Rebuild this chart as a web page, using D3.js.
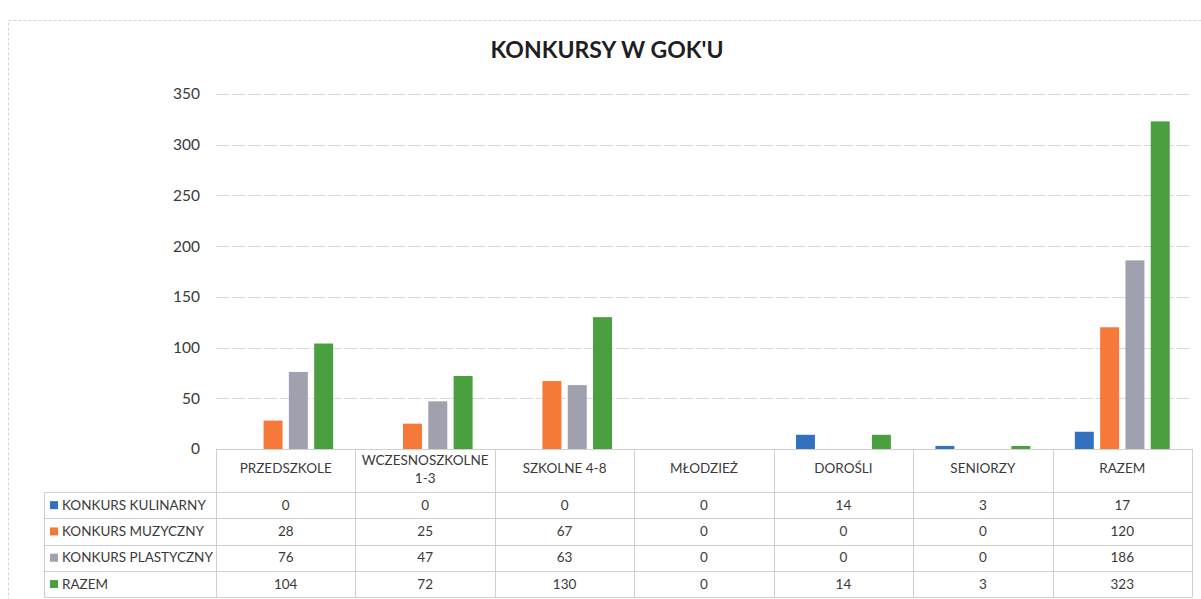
<!DOCTYPE html>
<html>
<head>
<meta charset="utf-8">
<script src="https://cdn.jsdelivr.net/npm/d3@7"></script>
<style>
  body { margin: 0; background: #fff; }
  text { font-family: Lato, "Open Sans", sans-serif; fill: #3a3a3a; }
</style>
</head>
<body>
<svg id="chart" width="1201" height="599"></svg>
<script>
// chart data
const categories = ["PRZEDSZKOLE", "WCZESNOSZKOLNE 1-3", "SZKOLNE 4-8", "MŁODZIEŻ", "DOROŚLI", "SENIORZY", "RAZEM"];
const headerLines = [["PRZEDSZKOLE"], ["WCZESNOSZKOLNE", "1-3"], ["SZKOLNE 4-8"], ["MŁODZIEŻ"], ["DOROŚLI"], ["SENIORZY"], ["RAZEM"]];
const seriesNames = ["KONKURS KULINARNY", "KONKURS MUZYCZNY", "KONKURS PLASTYCZNY", "RAZEM"];
const kulinarny  = [0, 0, 0, 0, 14, 3, 17];
const muzyczny   = [28, 25, 67, 0, 0, 0, 120];
const plastyczny = [76, 47, 63, 0, 0, 0, 186];
const razem      = [104, 72, 130, 0, 14, 3, 323];
const seriesValues = [kulinarny, muzyczny, plastyczny, razem];
const colors = ["#3370c0", "#f7793a", "#a0a1ae", "#4a9f3e"];
const yTicks = [0, 50, 100, 150, 200, 250, 300, 350];

const svg = d3.select("#chart");

const plot = {left: 216, right: 1192, top: 94, bottom: 449};
const rowH = 26.3, headerBottom = 492, tableLeft = 44;

// outer frame
svg.append("rect")
    .attr("x", 8.5).attr("y", 20.5)
    .attr("width", 1200).attr("height", 590)
    .attr("fill", "none")
    .attr("stroke", "#d4d4d4")
    .attr("stroke-dasharray", "3,2");

svg.append("text")
    .attr("x", 607).attr("y", 58)
    .attr("text-anchor", "middle")
    .attr("font-size", 23)
    .attr("font-weight", "bold")
    .style("fill", "#1e1e24")
    .text("KONKURSY W GOK'U");

const x = d3.scaleBand()
    .domain(categories)
    .range([plot.left, plot.right]);

const xSub = d3.scaleBand()
    .domain(seriesNames)
    .range([0, x.bandwidth()])
    .paddingInner(0.25)
    .paddingOuter(0.88);

const y = d3.scaleLinear()
    .domain([0, 350])
    .range([plot.bottom, plot.top]);

// grid
svg.append("g")
  .selectAll("line")
  .data(yTicks.slice(1))
  .join("line")
    .attr("x1", plot.left).attr("x2", plot.right)
    .attr("y1", d => Math.round(y(d)) + 0.5)
    .attr("y2", d => Math.round(y(d)) + 0.5)
    .attr("stroke", "#dadada")
    .attr("stroke-dasharray", "14,2");

// y axis labels
svg.append("g")
  .selectAll("text")
  .data(yTicks)
  .join("text")
    .attr("x", 200)
    .attr("y", d => y(d))
    .attr("dy", "0.35em")
    .attr("text-anchor", "end")
    .attr("font-size", 15.5)
    .text(d => d);

// bars
const groups = svg.append("g")
  .selectAll("g")
  .data(categories)
  .join("g")
    .attr("transform", d => `translate(${x(d)},0)`);

groups.selectAll("rect")
  .data((d, i) => seriesNames.map((s, j) => ({s, j, v: seriesValues[j][i]})))
  .join("rect")
    .attr("x", d => xSub(d.s))
    .attr("width", xSub.bandwidth())
    .attr("y", d => y(d.v))
    .attr("height", d => y(0) - y(d.v))
    .attr("fill", d => colors[d.j]);

// data table
const grid = svg.append("g")
    .attr("stroke", "#d0d0d0")
    .attr("fill", "none");

// horizontal lines
grid.append("line")
    .attr("x1", plot.left).attr("x2", plot.right)
    .attr("y1", plot.bottom + 0.5).attr("y2", plot.bottom + 0.5);
seriesNames.forEach((s, i) => {
  const yy = Math.round(headerBottom + i * rowH) + 0.5;
  grid.append("line")
      .attr("x1", tableLeft).attr("x2", plot.right)
      .attr("y1", yy).attr("y2", yy);
});
const tableBottom = Math.round(headerBottom + seriesNames.length * rowH) + 0.5;
grid.append("line")
    .attr("x1", tableLeft).attr("x2", plot.right)
    .attr("y1", tableBottom).attr("y2", tableBottom);

// vertical lines
grid.append("line")
    .attr("x1", tableLeft + 0.5).attr("x2", tableLeft + 0.5)
    .attr("y1", headerBottom).attr("y2", tableBottom);
categories.forEach(c => {
  const xx = Math.round(x(c)) + 0.5;
  grid.append("line")
      .attr("x1", xx).attr("x2", xx)
      .attr("y1", plot.bottom).attr("y2", tableBottom);
});
grid.append("line")
    .attr("x1", plot.right + 0.5).attr("x2", plot.right + 0.5)
    .attr("y1", plot.bottom).attr("y2", tableBottom);

// header labels
categories.forEach((c, i) => {
  const lines = headerLines[i];
  const cx = x(c) + x.bandwidth() / 2;
  const y0 = lines.length > 1 ? 460 : 468;
  lines.forEach((t, k) => {
    svg.append("text")
        .attr("x", cx)
        .attr("y", y0 + k * 18)
        .attr("dy", "0.35em")
        .attr("text-anchor", "middle")
        .attr("font-size", 13.5)
        .text(t);
  });
});

// legend column + values
seriesNames.forEach((s, j) => {
  const cy = headerBottom + j * rowH + rowH / 2;
  svg.append("rect")
      .attr("x", 50).attr("y", cy - 4)
      .attr("width", 8).attr("height", 8)
      .attr("fill", colors[j]);
  svg.append("text")
      .attr("x", 62).attr("y", cy)
      .attr("dy", "0.35em")
      .attr("font-size", 13.5)
      .text(s);
  categories.forEach((c, i) => {
    svg.append("text")
        .attr("x", x(c) + x.bandwidth() / 2)
        .attr("y", cy)
        .attr("dy", "0.35em")
        .attr("text-anchor", "middle")
        .attr("font-size", 13.5)
        .text(seriesValues[j][i]);
  });
});
</script>
</body>
</html>
